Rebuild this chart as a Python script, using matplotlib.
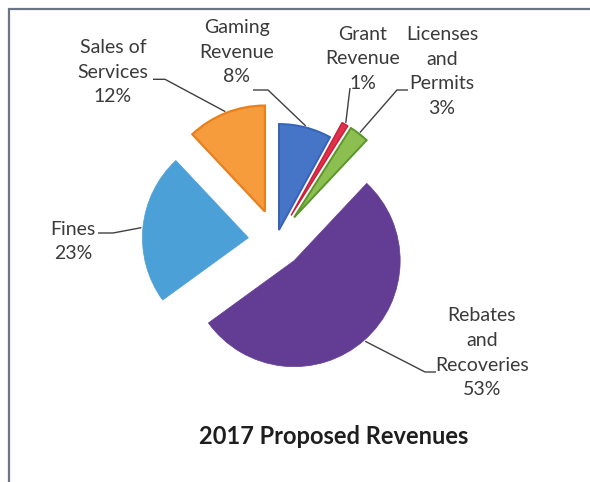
import numpy as np
import matplotlib
matplotlib.use("Agg")
import matplotlib.pyplot as plt

# --- data -------------------------------------------------------------
categories = ["Gaming\nRevenue", "Grant\nRevenue", "Licenses\nand\nPermits",
              "Rebates\nand\nRecoveries", "Fines", "Sales of\nServices"]
shares = [8, 1, 3, 53, 23, 12]
title = "2017 Proposed Revenues"

# --- styling ----------------------------------------------------------
fills = ["#4674C6", "#E0304B", "#8CBE50", "#633C94", "#4BA0D8", "#F79C3C"]
edges = ["#3563B8", "#C81E3A", "#5A962A", "#633C94", "#4BA0D8", "#E8801E"]
edge_w = [1.4, 1.0, 1.4, 0.5, 0.5, 1.6]
explode_px = [10.7, 29, 29, 27, 28, 31]

W, H = 590, 482
R = 106
CENTER = (276.3, H - 240.4)

fig = plt.figure(figsize=(W / 100, H / 100), dpi=100)
ax = fig.add_axes([0, 0, 1, 1])

wedges, _ = ax.pie(shares, colors=fills, startangle=90, counterclock=False,
                   radius=R, center=CENTER, explode=explode_px,
                   wedgeprops=dict(linewidth=0.8))
for w, ec, lw in zip(wedges, edges, edge_w):
    w.set_edgecolor(ec)
    w.set_linewidth(lw)

ax.set_xlim(0, W)
ax.set_ylim(0, H)
ax.set_aspect("equal", adjustable="box")
ax.axis("off")

FONT = ["Lato", "DejaVu Sans"]
TXT = "#3A3A3A"


def arc_point(w, extra=1.5):
    """Point on a wedge's outer arc at its mid angle."""
    cx, cy = w.center
    t = np.deg2rad(0.5 * (w.theta1 + w.theta2))
    r = w.r + extra
    return cx + r * np.cos(t), cy + r * np.sin(t)


# label layout in pixel space (y measured from top): text centre and leader elbow path
layout = [
    dict(xy=(237, 52), path=[(253, 90), (268, 90)]),          # Gaming
    dict(xy=(363, 58.7), path=[(350, 88)]),                    # Grant
    dict(xy=(442, 71.5), path=[(408, 90), (397, 90)]),         # Licenses
    dict(xy=(482, 352.7), path=[(436, 372), (425, 372)]),      # Rebates
    dict(xy=(73, 241.5), path=[(98, 233), (113, 233)]),        # Fines
    dict(xy=(113, 72.3), path=[(153, 79.3), (165, 79.3)]),     # Sales
]

for name, val, w, lay in zip(categories, shares, wedges, layout):
    tx, ty = lay["xy"]
    ax.text(tx, H - ty, f"{name}\n{val}%", ha="center", va="center",
            fontsize=14, color=TXT, family=FONT, linespacing=1.55)
    pts = [(x, H - y) for x, y in lay["path"]] + [arc_point(w)]
    xs, ys = zip(*pts)
    ax.plot(xs, ys, color="#404040", lw=1.0, solid_capstyle="butt")

ax.text(334, H - 437, title, ha="center", va="center", fontsize=17,
        fontweight="bold", color="#1E1E1E", family=FONT)

# frame edge along the top and left
ax.plot([9, 9, W], [0, H - 9, H - 9], color="#6B7585", lw=1.6,
        solid_joinstyle="miter")

fig.savefig("out.png", dpi=100, facecolor="white")
